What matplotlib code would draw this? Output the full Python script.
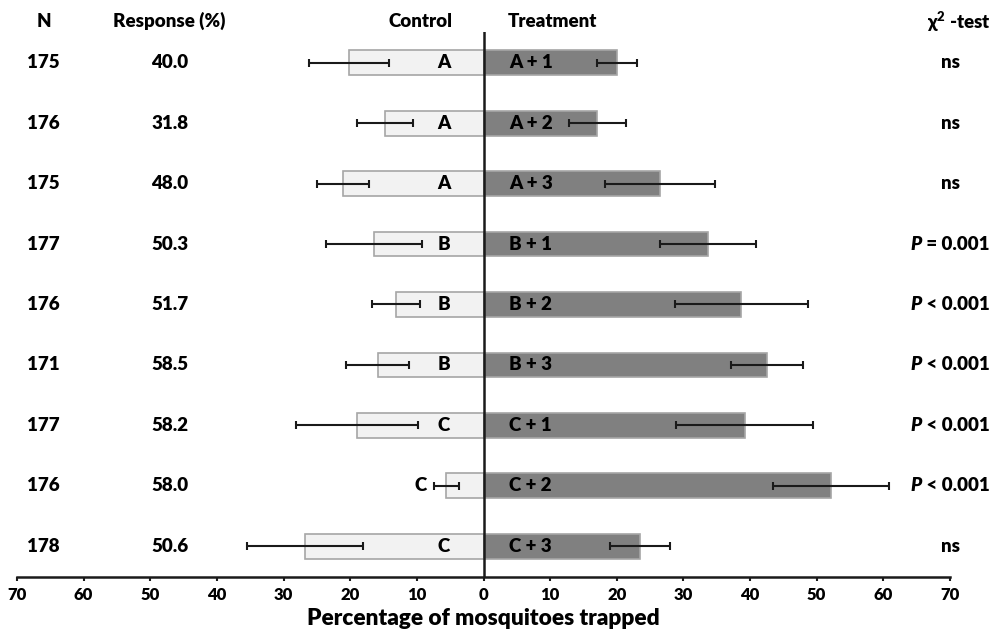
import matplotlib
matplotlib.use("Agg")
import matplotlib.pyplot as plt
import numpy as np

plt.rcParams['font.family'] = ['Lato', 'DejaVu Sans']
plt.rcParams['font.weight'] = 'heavy'
plt.rcParams['mathtext.fontset'] = 'custom'
plt.rcParams['mathtext.rm'] = 'Lato:heavy'
plt.rcParams['mathtext.bf'] = 'Lato:heavy'

n_values = [175, 176, 175, 177, 176, 171, 177, 176, 178]
response = ["40.0", "31.8", "48.0", "50.3", "51.7", "58.5", "58.2", "58.0", "50.6"]
control_labels = ["A", "A", "A", "B", "B", "B", "C", "C", "C"]
treatment_labels = ["A + 1", "A + 2", "A + 3", "B + 1", "B + 2", "B + 3", "C + 1", "C + 2", "C + 3"]
control_mean = [20.2, 14.8, 21.1, 16.4, 13.1, 15.9, 19.0, 5.6, 26.8]
control_err = [6.0, 4.2, 3.9, 7.2, 3.6, 4.75, 9.2, 1.9, 8.65]
treatment_mean = [20.0, 17.1, 26.5, 33.7, 38.7, 42.5, 39.2, 52.1, 23.5]
treatment_err = [3.0, 4.3, 8.2, 7.2, 10.0, 5.4, 10.25, 8.7, 4.5]
chi_prefix = ["", "", "", "P", "P", "P", "P", "P", ""]
chi_text = ["ns", "ns", "ns", " = 0.001", " < 0.001", " < 0.001", " < 0.001", " < 0.001", "ns"]
xticks = list(range(-70, 71, 10))

fig = plt.figure(figsize=(9.91, 6.34), dpi=100)
ax = fig.add_axes([17/991, (634-577)/634, (950-17)/991, (577-32)/634])

y = np.arange(len(n_values))
h = 0.41
ax.barh(y, -np.array(control_mean), height=h, color='#f2f2f2', edgecolor='#a6a6a6', linewidth=1.2, zorder=2)
ax.barh(y, treatment_mean, height=h, color='#808080', edgecolor='#a6a6a6', linewidth=1.2, zorder=2)
ax.errorbar(-np.array(control_mean), y, xerr=control_err, fmt='none', ecolor='#1a1a1a', elinewidth=1.5, capsize=3, capthick=1.5, zorder=3)
ax.errorbar(treatment_mean, y, xerr=treatment_err, fmt='none', ecolor='#1a1a1a', elinewidth=1.5, capsize=3, capthick=1.5, zorder=3)

ax.axvline(0, color='#1a1a1a', linewidth=1.8, zorder=4)

ax.set_xlim(-70, 70)
ax.set_ylim(len(n_values) - 0.49, -0.51)

fs = 13.5
fw = 'heavy'
for i in range(len(n_values)):
    ax.text(-66.0, i, str(n_values[i]), ha='center', va='center', fontsize=fs, fontweight=fw, clip_on=False)
    ax.text(-47.1, i, response[i], ha='center', va='center', fontsize=fs, fontweight=fw, clip_on=False)
    cx = -6.0 if control_mean[i] > 9 else -9.4
    ax.text(cx, i, control_labels[i], ha='center', va='center', fontsize=fs, fontweight=fw, zorder=5)
    ax.text(3.8, i, treatment_labels[i], ha='left', va='center', fontsize=fs, fontweight=fw, zorder=5)
    if chi_prefix[i]:
        ax.text(65.8, i, chi_prefix[i], ha='right', va='center', fontsize=fs, fontweight=fw, style='italic', clip_on=False)
        ax.text(65.8, i, chi_text[i], ha='left', va='center', fontsize=fs, fontweight=fw, clip_on=False)
    else:
        ax.text(70.0, i, chi_text[i], ha='center', va='center', fontsize=fs, fontweight=fw, clip_on=False)

hy = -0.69
ax.text(-66.0, hy, "N", ha='center', va='center', fontsize=fs, fontweight=fw, clip_on=False)
ax.text(-47.1, hy, "Response (%)", ha='center', va='center', fontsize=fs, fontweight=fw, clip_on=False)
ax.text(-9.5, hy, "Control", ha='center', va='center', fontsize=fs, fontweight=fw, clip_on=False)
ax.text(10.4, hy, "Treatment", ha='center', va='center', fontsize=fs, fontweight=fw, clip_on=False)
ax.text(71.4, hy, "χ$^{2}$ -test", ha='center', va='center', fontsize=fs, fontweight=fw, clip_on=False)

for s in ['top', 'right', 'left']:
    ax.spines[s].set_visible(False)
ax.spines['bottom'].set_linewidth(1.8)
ax.spines['bottom'].set_color('#1a1a1a')
ax.set_yticks([])
ax.set_xticks(xticks)
ax.set_xticklabels([str(abs(t)) for t in xticks], fontsize=12, fontweight=fw)
ax.tick_params(axis='x', length=3, width=1.5, color='#1a1a1a', pad=4)
ax.set_xlabel("Percentage of mosquitoes trapped", fontsize=16.3, fontweight=fw, labelpad=4)

fig.savefig("out.png", dpi=100)
